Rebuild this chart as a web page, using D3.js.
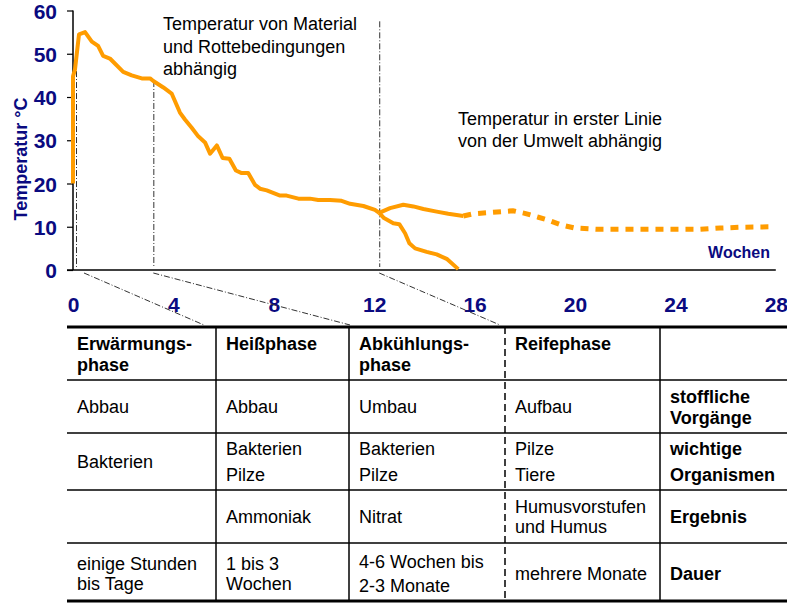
<!DOCTYPE html>
<html><head><meta charset="utf-8">
<script src="https://cdn.jsdelivr.net/npm/d3@7"></script>
<style>
html,body{margin:0;padding:0;background:#fff;}
svg{display:block;font-family:"Liberation Sans",Arial,sans-serif;}
</style></head>
<body>
<svg id="c" width="787" height="603"></svg>
<script>
// ---------- data ----------
const xTicks = [0,4,8,12,16,20,24,28];
const yTicks = [0,10,20,30,40,50,60];
const xLabel = "Wochen";
const yLabel = "Temperatur °C";
// main curve: [week, °C]
const mainCurve = [[0,20],[0,44.8],[0.08,46.4],[0.24,54.5],[0.48,55.0],[0.75,52.8],[1.0,51.8],[1.2,49.5],[1.47,48.9],
 [2.0,45.8],[2.34,45.0],[2.74,44.3],[3.07,44.3],[3.2,43.7],[3.6,42.2],[3.93,40.8],[4.26,36.4],[4.46,34.8],[4.73,32.9],
 [4.99,30.9],[5.26,29.5],[5.46,26.9],[5.73,28.8],[5.96,25.9],[6.23,25.7],[6.49,23.0],[6.72,22.4],[6.98,22.4],[7.25,19.7],
 [7.45,18.8],[7.72,18.4],[8.25,17.2],[8.51,17.2],[8.98,16.5],[9.44,16.5],[9.77,16.2],[10.24,16.2],[10.7,16.0],[11.04,15.3],
 [11.57,14.8],[12.03,13.9],[12.2,13.2]];
const upperSolid = [[12.2,13.2],[12.63,14.3],[13.16,15.1],[13.56,14.7],[13.96,14.1],[14.49,13.5],[14.95,13.0],[15.55,12.5]];
const upperDashed = [[15.55,12.5],[15.94,13.0],[17.08,13.5],[17.53,13.7],[18.0,13.1],[18.54,12.2],[19.0,11.4],[19.47,10.4],
 [20.0,9.7],[20.93,9.4],[21.86,9.4],[22.86,9.4],[23.85,9.4],[24.98,9.4],[25.78,9.7],[26.7,9.9],[27.9,10.0]];
const lowerBranch = [[12.2,13.2],[12.39,12.0],[12.76,10.8],[13.0,10.6],[13.23,8.5],[13.4,6.2],[13.63,5.0],[14.09,4.2],
 [14.49,3.6],[14.91,2.5],[15.35,0.2]];
// phase boundaries: [week, top °C]
const phaseBounds = [[0.12,46],[3.2,43.7],[12.2,57.5]];
const note1 = ["Temperatur von Material","und Rottebedingungen","abhängig"];
const note2 = ["Temperatur in erster Linie","von der Umwelt abhängig"];
// table
const tableHeader = [["Erwärmungs-","phase"],["Heißphase"],["Abkühlungs-","phase"],["Reifephase"],[]];
const tableRows = [
  [["Abbau"],["Abbau"],["Umbau"],["Aufbau"],["stoffliche","Vorgänge"]],
  [["Bakterien"],["Bakterien","Pilze"],["Bakterien","Pilze"],["Pilze","Tiere"],["wichtige","Organismen"]],
  [[],["Ammoniak"],["Nitrat"],["Humusvorstufen","und Humus"],["Ergebnis"]],
  [["einige Stunden","bis Tage"],["1 bis 3","Wochen"],["4-6 Wochen bis","2-3 Monate"],["mehrere Monate"],["Dauer"]]
];

// ---------- layout ----------
const svg = d3.select("#c");
const navy = "#0a0a80", orange = "#FF9C00";
const x = d3.scaleLinear().domain([0,28]).range([73,775.8]);
const y = d3.scaleLinear().domain([0,60]).range([270,10.5]);
const line = d3.line().x(d=>x(d[0])).y(d=>y(d[1]));

// axes
const yAxis = svg.append("g").attr("transform","translate(73,0)")
  .call(d3.axisLeft(y).tickValues(yTicks).tickSize(6).tickPadding(10).tickFormat(d3.format("d")));
yAxis.select(".domain").attr("stroke","#000").attr("stroke-width",1.5).attr("d",`M0,${y(60)}V${y(0)}`);
yAxis.selectAll(".tick line").attr("stroke","#000").attr("stroke-width",1.2);
yAxis.selectAll(".tick text").attr("fill",navy).attr("font-size",21).attr("font-weight","bold")
  .attr("font-family","Liberation Sans, Arial, sans-serif").attr("dy","0.36em");

const xAxis = svg.append("g").attr("transform","translate(0,270)")
  .call(d3.axisBottom(x).tickValues(xTicks).tickSize(0).tickPadding(27).tickFormat(d3.format("d")));
xAxis.select(".domain").attr("stroke","#000").attr("stroke-width",1.5).attr("d",`M67,0H${x(28)}`);
xAxis.selectAll(".tick text").attr("fill",navy).attr("font-size",21).attr("font-weight","bold")
  .attr("font-family","Liberation Sans, Arial, sans-serif").attr("dy","0.71em");

svg.append("text").attr("transform","translate(27,159) rotate(-90)").attr("text-anchor","middle")
  .attr("fill",navy).attr("font-size",18).attr("font-weight","bold").text(yLabel);
svg.append("text").attr("x",770).attr("y",258).attr("text-anchor","end")
  .attr("fill",navy).attr("font-size",16).attr("font-weight","bold").text(xLabel);

// phase boundary lines (dash-dot)
const dd = "6,2,1,2";
svg.selectAll(".pb").data(phaseBounds).enter().append("line")
  .attr("x1",d=>x(d[0])+0.5).attr("x2",d=>x(d[0])+0.5).attr("y1",d=>y(d[1])).attr("y2",y(0)-3)
  .attr("stroke","#333").attr("stroke-width",1).attr("stroke-dasharray",dd);
const diagEnds = [204,350,500];
svg.selectAll(".dg").data(phaseBounds).enter().append("line")
  .attr("x1",(d,i)=>x(d[0])+ (i===0?8:0)).attr("y1",273).attr("x2",(d,i)=>diagEnds[i]).attr("y2",325)
  .attr("stroke","#333").attr("stroke-width",1).attr("stroke-dasharray",dd);

// curves
const curveStyle = s => s.attr("fill","none").attr("stroke",orange).attr("stroke-width",4)
  .attr("stroke-linejoin","round");
svg.append("path").datum(mainCurve).attr("d",line).call(curveStyle);
svg.append("path").datum(upperSolid).attr("d",line).call(curveStyle);
svg.append("path").datum(lowerBranch).attr("d",line).call(curveStyle);
svg.append("path").datum(upperDashed).attr("d",line).call(curveStyle)
  .attr("stroke-width",5).attr("stroke-linejoin","miter").attr("stroke-dasharray","8,7");

// annotations
const n1 = svg.append("text").attr("font-size",18).attr("fill","#000");
note1.forEach((t,i)=>n1.append("tspan").attr("x",163).attr("y",30+i*22.5).text(t));
const n2 = svg.append("text").attr("font-size",18).attr("fill","#000");
note2.forEach((t,i)=>n2.append("tspan").attr("x",458).attr("y",125+i*22).text(t));

// table
const colX = [67,216,349,505,660,787];
const rowY = [327,380,433,490,543,601];
const rowGap = [21,21,25.5,20,20];
const tg = svg.append("g").attr("font-size",18);
// horizontal lines
rowY.forEach((yy,i)=>{
  const thick = (i===0||i===rowY.length-1);
  tg.append("line").attr("x1",colX[0]).attr("x2",colX[5]).attr("y1",yy).attr("y2",yy)
    .attr("stroke","#000").attr("stroke-width",thick?3:1.5);
});
// vertical lines
[1,2,3,4].forEach(ci=>{
  tg.append("line").attr("x1",colX[ci]).attr("x2",colX[ci]).attr("y1",rowY[0]).attr("y2",rowY[5])
    .attr("stroke","#000").attr("stroke-width",1.5).attr("stroke-dasharray",ci===3?"7,4":null);
});
// header
tableHeader.forEach((lines,ci)=>{
  const t = tg.append("text").attr("font-weight","bold");
  lines.forEach((s,li)=>t.append("tspan").attr("x",colX[ci]+10).attr("y",rowY[0]+23+li*21).text(s));
});
// body
tableRows.forEach((row,ri)=>{
  const mid = (rowY[ri+1]+rowY[ri+2])/2;
  row.forEach((lines,ci)=>{
    const gap = (ri===3 && ci===2) ? 24 : rowGap[ri+1];
    const t = tg.append("text").attr("font-weight",ci===4?"bold":"normal");
    const n = lines.length;
    const off = (ri===3) ? 7.5 : 6.5;
    lines.forEach((s,li)=>t.append("tspan").attr("x",colX[ci]+10)
      .attr("y",mid+off+(li-(n-1)/2)*gap).text(s));
  });
});
</script>
</body></html>
